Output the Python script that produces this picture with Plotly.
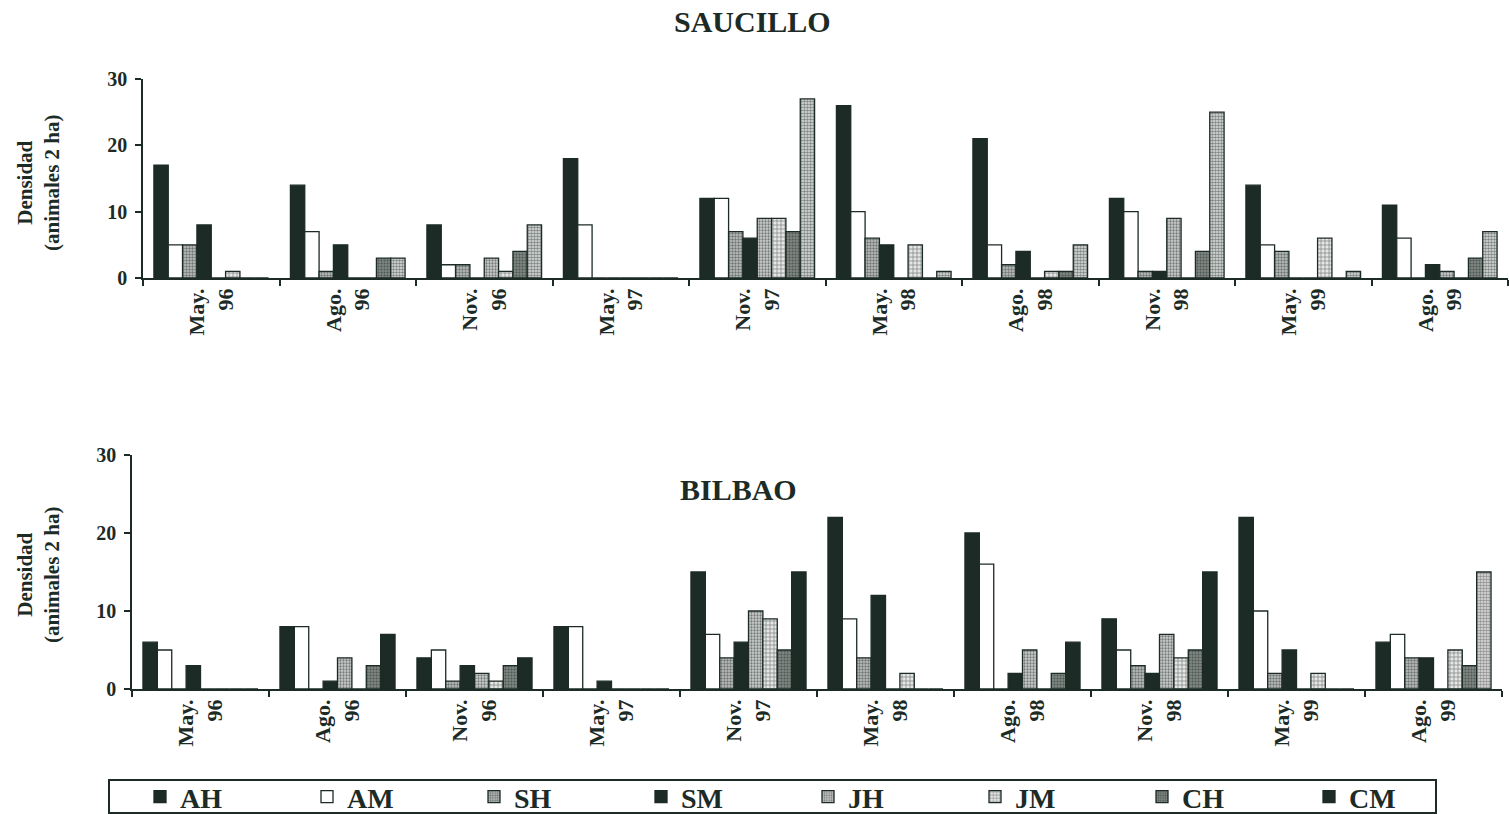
import plotly.graph_objects as go

categories = ["May.<br>96", "Ago.<br>96", "Nov.<br>96", "May.<br>97", "Nov.<br>97",
              "May.<br>98", "Ago.<br>98", "Nov.<br>98", "May.<br>99", "Ago.<br>99"]
series_names = ["AH", "AM", "SH", "SM", "JH", "JM", "CH", "CM"]

# SAUCILLO
sau_AH = [17, 14, 8, 18, 12, 26, 21, 12, 14, 11]
sau_AM = [5, 7, 2, 8, 12, 10, 5, 10, 5, 6]
sau_SH = [5, 1, 2, 0, 7, 6, 2, 1, 4, 0]
sau_SM = [8, 5, 0, 0, 6, 5, 4, 1, 0, 2]
sau_JH = [0, 0, 3, 0, 9, 0, 0, 9, 0, 1]
sau_JM = [1, 0, 1, 0, 9, 5, 1, 0, 6, 0]
sau_CH = [0, 3, 4, 0, 7, 0, 1, 4, 0, 3]
sau_CM = [0, 3, 8, 0, 27, 1, 5, 25, 1, 7]

# BILBAO
bil_AH = [6, 8, 4, 8, 15, 22, 20, 9, 22, 6]
bil_AM = [5, 8, 5, 8, 7, 9, 16, 5, 10, 7]
bil_SH = [0, 0, 1, 0, 4, 4, 0, 3, 2, 4]
bil_SM = [3, 1, 3, 1, 6, 12, 2, 2, 5, 4]
bil_JH = [0, 4, 2, 0, 10, 0, 5, 7, 0, 0]
bil_JM = [0, 0, 1, 0, 9, 2, 0, 4, 2, 5]
bil_CH = [0, 3, 3, 0, 5, 0, 2, 5, 0, 3]
bil_CM = [0, 7, 4, 0, 15, 0, 6, 15, 0, 15]

sau = [sau_AH, sau_AM, sau_SH, sau_SM, sau_JH, sau_JM, sau_CH, sau_CM]
bil = [bil_AH, bil_AM, bil_SH, bil_SM, bil_JH, bil_JM, bil_CH, bil_CM]

INK = "#1c2b26"
FONT = "Liberation Serif"

# style per series: (background color, pattern shape, pattern size, solidity)
styles = {
    "AH": (INK, "", 8, 0.3),
    "AM": ("#ffffff", "", 8, 0.3),
    "SH": ("#c4c4c4", ".", 3, 0.5),
    "SM": (INK, "", 8, 0.3),
    "JH": ("#cdcdcd", ".", 3, 0.45),
    "JM": ("#e6e6e6", "+", 4, 0.35),
    "CH": ("#7f8581", ".", 3, 0.4),
    "CM": (INK, "", 8, 0.3),
}
light_cm = ("#e2e2e2", ".", 3, 0.55)

fig = go.Figure()


def add_series(values_list, xaxis, yaxis, showlegend, site):
    for name, vals in zip(series_names, values_list):
        col, shp, size, sol = styles[name]
        if name == "CM" and site == "sau":
            col, shp, size, sol = light_cm
        if name == "CM" and site == "bil":
            cols = [INK] * len(vals)
            shps = [""] * len(vals)
            cols[-1] = light_cm[0]
            shps[-1] = light_cm[1]
            marker = dict(color=cols, line=dict(color=INK, width=1.3),
                          pattern=dict(shape=shps, fgcolor=INK, size=3,
                                       solidity=0.55, fillmode="overlay"))
        else:
            marker = dict(color=col, line=dict(color=INK, width=1.3),
                          pattern=dict(shape=shp, fgcolor=INK, size=size,
                                       solidity=sol, fillmode="overlay"))
        fig.add_trace(go.Bar(x=categories, y=vals, name=name, marker=marker,
                             xaxis=xaxis, yaxis=yaxis, showlegend=showlegend))


add_series(sau, "x", "y", False, "sau")
add_series(bil, "x2", "y2", True, "bil")

W, H = 1509, 814


def px_x(p):
    return p / W


def px_y(p):
    return (H - p) / H


axis_common = dict(showline=True, linecolor=INK, linewidth=1.5, ticks="outside",
                   ticklen=6, tickwidth=1.5, tickcolor=INK, showgrid=False,
                   zeroline=False, automargin=False)

xcommon = dict(axis_common, type="category", tickson="boundaries", tickangle=-90,
               tickfont=dict(family=FONT, size=22, color=INK, weight="bold"))
ycommon = dict(axis_common, range=[0, 30], tickvals=[0, 10, 20, 30],
               tickfont=dict(family=FONT, size=20, color=INK, weight="bold"),
               ticklabelstandoff=4)

fig.update_layout(
    width=W, height=H,
    margin=dict(l=0, r=0, t=0, b=0, autoexpand=False),
    paper_bgcolor="white", plot_bgcolor="white",
    barmode="group", bargap=0.16, bargroupgap=0,
    xaxis=dict(xcommon, domain=[px_x(143), px_x(1508)], anchor="y"),
    yaxis=dict(ycommon, domain=[px_y(278), px_y(79)], anchor="x"),
    xaxis2=dict(xcommon, domain=[px_x(132), px_x(1502)], anchor="y2"),
    yaxis2=dict(ycommon, domain=[px_y(689), px_y(455)], anchor="x2"),
    legend=dict(orientation="h", x=px_x(140), y=px_y(797), xanchor="left",
                yanchor="middle", entrywidth=122, entrywidthmode="pixels",
                font=dict(family=FONT, size=28, color=INK, weight="bold"),
                bgcolor="rgba(0,0,0,0)", traceorder="normal"),
    shapes=[dict(type="rect", xref="paper", yref="paper",
                 x0=px_x(109), x1=px_x(1436), y0=px_y(813), y1=px_y(780),
                 line=dict(color=INK, width=2), fillcolor="rgba(0,0,0,0)")],
    annotations=[
        dict(text="SAUCILLO", x=px_x(752), y=px_y(22), xref="paper", yref="paper",
             showarrow=False, xanchor="center", yanchor="middle",
             font=dict(family=FONT, size=30, color=INK, weight="bold")),
        dict(text="BILBAO", x=px_x(738), y=px_y(490), xref="paper", yref="paper",
             showarrow=False, xanchor="center", yanchor="middle",
             font=dict(family=FONT, size=30, color=INK, weight="bold")),
        dict(text="Densidad<br>(animales 2 ha)", x=px_x(38), y=px_y(183),
             xref="paper", yref="paper", showarrow=False, textangle=-90,
             xanchor="center", yanchor="middle",
             font=dict(family=FONT, size=21, color=INK, weight="bold")),
        dict(text="Densidad<br>(animales 2 ha)", x=px_x(38), y=px_y(575),
             xref="paper", yref="paper", showarrow=False, textangle=-90,
             xanchor="center", yanchor="middle",
             font=dict(family=FONT, size=21, color=INK, weight="bold")),
    ],
)

fig.write_html("out.html")
